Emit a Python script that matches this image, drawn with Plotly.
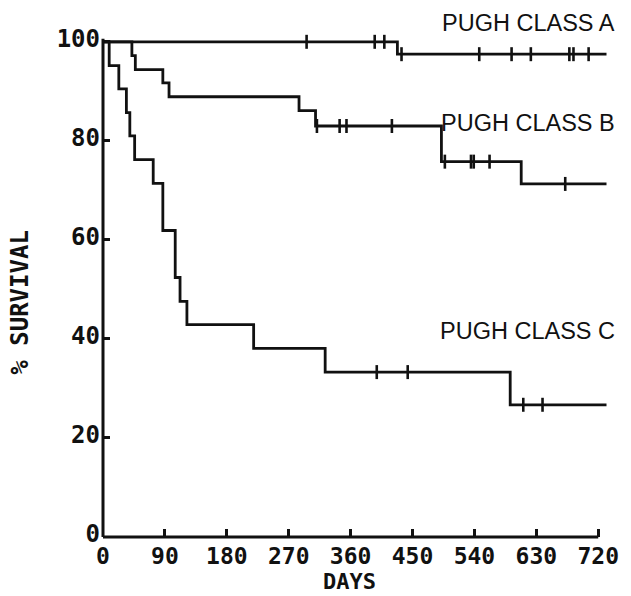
import plotly.graph_objects as go

# ---------------- data ----------------
a_times = [0, 428, 732]
a_surv = [100.0, 97.5, 97.5]
a_cens_t = [296, 395, 409, 434, 547, 594, 622, 678, 684, 706]
a_cens_s = [100.0, 100.0, 100.0, 97.5, 97.5, 97.5, 97.5, 97.5, 97.5, 97.5]

b_times = [0, 42, 47, 87, 96, 285, 309, 492, 608, 732]
b_surv = [100.0, 97.2, 94.4, 91.7, 88.9, 86.1, 83.0, 75.8, 71.3, 71.3]
b_cens_t = [311, 344, 354, 420, 497, 535, 539, 562, 672]
b_cens_s = [83.0, 83.0, 83.0, 83.0, 75.8, 75.8, 75.8, 75.8, 71.3]

c_times = [0, 9, 23, 34, 39, 46, 73, 87, 105, 112, 122, 219, 323, 592, 732]
c_surv = [100.0, 95.2, 90.5, 85.7, 81.0, 76.2, 71.4, 61.9, 52.4, 47.6, 42.9, 38.1, 33.3, 26.7, 26.7]
c_cens_t = [398, 443, 611, 639]
c_cens_s = [33.3, 33.3, 26.7, 26.7]

x_ticks = [0, 90, 180, 270, 360, 450, 540, 630, 720]
x_ticktext = ["0", "90", "180", "270", "360", "450", "540", "630", "720"]
y_ticks = [0, 20, 40, 60, 80, 100]
y_ticktext = ["0", "20", "40", "60", "80", "100"]

labels = ["PUGH CLASS A", "PUGH CLASS B", "PUGH CLASS C"]

# ---------------- layout geometry ----------------
W, H = 631, 596
ML, MR, MT, MB = 103.3, 12.1, 21.9, 58.7
XR = [0, 740]
YR = [0, 104]
PW = W - ML - MR
PH = H - MT - MB


def px_to_paper_x(px):
    return (px - ML) / PW


def px_to_paper_y(py):
    return (H - MB - py) / PH


def data_to_paper_x(d):
    return (d - XR[0]) / (XR[1] - XR[0])


def data_to_paper_y(d):
    return (d - YR[0]) / (YR[1] - YR[0])


BLACK = "#111111"
LW = 2.8
mono = "DejaVu Sans Mono"
MONO_SIZE = 24

fig = go.Figure()

for t, s, ct, cs in [
    (a_times, a_surv, a_cens_t, a_cens_s),
    (b_times, b_surv, b_cens_t, b_cens_s),
    (c_times, c_surv, c_cens_t, c_cens_s),
]:
    fig.add_trace(go.Scatter(x=t, y=s, mode="lines", line=dict(shape="hv", color=BLACK, width=LW),
                             showlegend=False, hoverinfo="skip"))
    fig.add_trace(go.Scatter(x=ct, y=cs, mode="markers",
                             marker=dict(symbol="line-ns", size=10, line=dict(color=BLACK, width=2.6)),
                             showlegend=False, hoverinfo="skip", cliponaxis=False))

# axis lines (ending at 0..720 and 0..100)
fig.add_shape(type="line", xref="paper", yref="paper",
              x0=0, x1=data_to_paper_x(720), y0=0, y1=0,
              line=dict(color=BLACK, width=3))
fig.add_shape(type="line", xref="paper", yref="paper",
              x0=0, x1=0, y0=0, y1=data_to_paper_y(100.6),
              line=dict(color=BLACK, width=3))

# curve labels
label_pos = [(624, 23), (624, 123), (624, 331)]
for txt, (xp, yp) in zip(labels, label_pos):
    fig.add_annotation(text=txt, xref="paper", yref="paper",
                       x=px_to_paper_x(xp), y=px_to_paper_y(yp),
                       xanchor="right", yanchor="middle", showarrow=False,
                       font=dict(family="Liberation Sans", size=23.5, color=BLACK))

# axis titles
fig.add_annotation(text="DAYS", xref="paper", yref="paper",
                   x=px_to_paper_x(353), y=px_to_paper_y(582),
                   xanchor="center", yanchor="middle", showarrow=False,
                   font=dict(family=mono, size=22, color=BLACK, weight="bold"))
fig.add_annotation(text="% SURVIVAL", xref="paper", yref="paper",
                   x=px_to_paper_x(19), y=px_to_paper_y(302),
                   xanchor="center", yanchor="middle", showarrow=False, textangle=-90,
                   font=dict(family=mono, size=MONO_SIZE, color=BLACK, weight="bold"))

fig.update_xaxes(range=XR, tickmode="array", tickvals=x_ticks, ticktext=x_ticktext,
                 ticks="inside", ticklen=8, tickwidth=2.5, tickcolor=BLACK,
                 showline=False, showgrid=False, zeroline=False,
                 tickfont=dict(family=mono, size=23, color=BLACK, weight="bold"),
                 ticklabelstandoff=3)
fig.update_yaxes(range=YR, tickmode="array", tickvals=y_ticks, ticktext=y_ticktext,
                 ticks="inside", ticklen=7, tickwidth=2.5, tickcolor=BLACK,
                 showline=False, showgrid=False, zeroline=False,
                 tickfont=dict(family=mono, size=MONO_SIZE, color=BLACK, weight="bold"),
                 ticklabelstandoff=2, ticklabelshift=-3)

fig.update_layout(width=W, height=H, margin=dict(l=ML, r=MR, t=MT, b=MB, pad=0),
                  plot_bgcolor="white", paper_bgcolor="white", showlegend=False)

# remove the default page margin so the figure fills the window exactly
fig.write_html("out.html", config={"displayModeBar": False},
               post_script="document.body.style.margin='0';document.body.style.overflow='hidden';")
